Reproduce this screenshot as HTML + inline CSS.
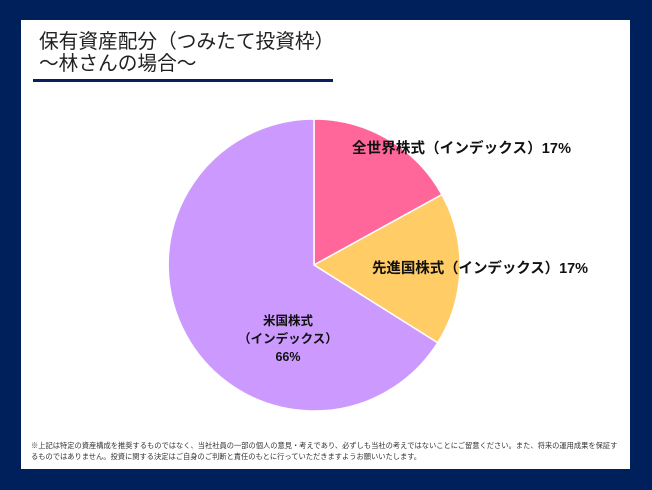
<!DOCTYPE html>
<html><head><meta charset="utf-8"><style>
body{margin:0;width:652px;height:490px;background:#00205b;position:relative;overflow:hidden;font-family:"Liberation Sans","Noto Sans CJK JP",sans-serif}
.panel{position:absolute;left:21px;top:20px;width:609px;height:449px;background:#fff}
.t{position:absolute;left:39px;font-size:19.7px;color:#222;white-space:nowrap;line-height:22px}
.bar{position:absolute;left:33px;top:79px;width:300px;height:3px;background:#0b1f5c}
.note{position:absolute;left:31px;font-size:7.25px;color:#333;white-space:nowrap;line-height:10px}
</style></head><body>
<div class="panel"></div>
<div class="t" style="top:31px">保有資産配分（つみたて投資枠）</div>
<div class="t" style="top:53px">～林さんの場合～</div>
<div class="bar"></div>
<svg style="position:absolute;left:0;top:0" width="652" height="490">
<g stroke="#fff" stroke-width="1.5">
<path d="M314,265 L314,119 A146,146 0 0 1 441.9,194.6 Z" fill="#ff6699"/>
<path d="M314,265 L441.9,194.6 A146,146 0 0 1 437.7,342.8 Z" fill="#ffcc66"/>
<path d="M314,265 L437.7,342.8 A146,146 0 1 1 314,119 Z" fill="#cc99ff"/>
</g>
<g font-family="Liberation Sans,Noto Sans CJK JP,sans-serif" font-weight="bold" fill="#111">
<text x="352" y="153" font-size="14.5" textLength="219">全世界株式（インデックス）17%</text>
<text x="372" y="273" font-size="14.5" textLength="216">先進国株式（インデックス）17%</text>
<g font-size="12.5" text-anchor="middle">
<text x="288" y="325">米国株式</text>
<text x="288" y="343">（インデックス）</text>
<text x="288" y="361">66%</text>
</g>
</g>
</svg>
<div class="note" style="top:441px">※上記は特定の資産構成を推奨するものではなく、当社社員の一部の個人の意見・考えであり、必ずしも当社の考えではないことにご留意ください。また、将来の運用成果を保証す</div>
<div class="note" style="top:452px">るものではありません。投資に関する決定はご自身のご判断と責任のもとに行っていただきますようお願いいたします。</div>
</body></html>
